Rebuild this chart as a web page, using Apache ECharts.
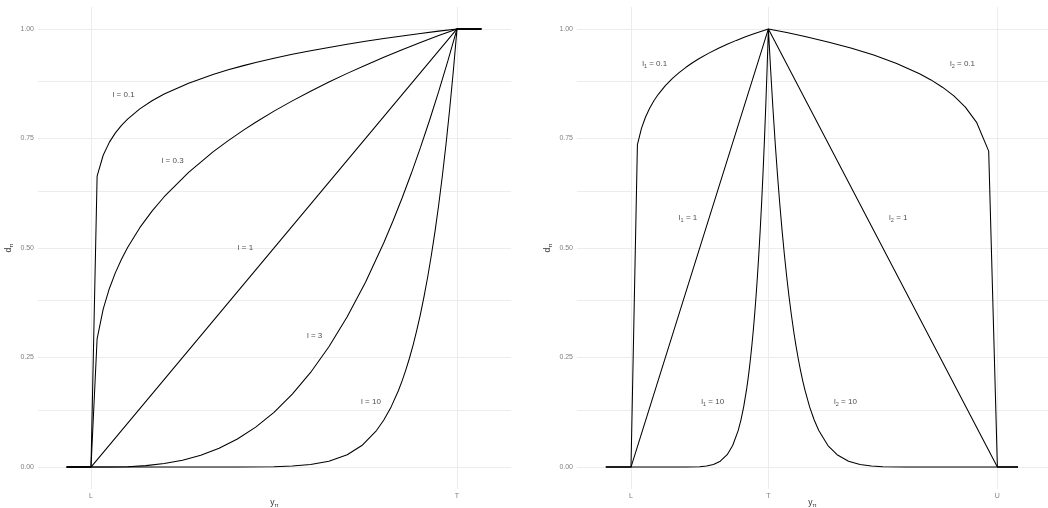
<!DOCTYPE html>
<html>
<head>
<meta charset="utf-8">
<script src="https://cdn.jsdelivr.net/npm/echarts@6/dist/echarts.min.js"></script>
<style>
  html, body { margin: 0; padding: 0; background: #ffffff; }
  #chart { width: 1048px; height: 508px; }
</style>
</head>
<body>
<div id="chart"></div>
<script>
const FONT = "'Liberation Sans', Arial, sans-serif";

// ---- axis ticks -------------------------------------------------------
// one-sided panel: L = 0, T = 1
const leftTickPos = [0, 1];
const leftTickText = ['L', 'T'];
// two-sided panel: L = 0, T = 3, U = 8
const rightTickPos = [0, 3, 8];
const rightTickText = ['L', 'T', 'U'];
const yMajor = [0, 0.25, 0.5, 0.75, 1];
const yMinor = [0.125, 0.375, 0.625, 0.875];

// ---- one-sided desirability curves (l = 0.1, 0.3, 1, 3, 10) -----------
const oneX_low = [-0.0667, 0, 0.0167, 0.0333, 0.05, 0.0667, 0.0833, 0.1, 0.1333, 0.1667, 0.2, 0.2667, 0.3333, 0.375, 0.4167, 0.45, 0.5, 0.55, 0.6, 0.65, 0.7, 0.75, 0.8, 0.85, 0.9, 0.95, 1, 1.0667];
const oneD_01 = [0, 0, 0.664, 0.7117, 0.7411, 0.7627, 0.78, 0.7943, 0.8175, 0.836, 0.8513, 0.8762, 0.896, 0.9066, 0.9162, 0.9233, 0.933, 0.942, 0.9502, 0.9578, 0.965, 0.9716, 0.9779, 0.9839, 0.9895, 0.9949, 1, 1];
const oneD_03 = [0, 0, 0.2928, 0.3605, 0.4071, 0.4438, 0.4745, 0.5012, 0.5464, 0.5842, 0.617, 0.6726, 0.7193, 0.7451, 0.769, 0.787, 0.8123, 0.8358, 0.8579, 0.8788, 0.8985, 0.9173, 0.9353, 0.9524, 0.9689, 0.9847, 1, 1];

const oneX_1 = [-0.0667, 0, 1, 1.0667];
const oneD_1 = [0, 0, 1, 1];

const oneX_3 = [-0.0667, 0, 0.05, 0.1, 0.15, 0.2, 0.25, 0.3, 0.35, 0.4, 0.45, 0.5, 0.55, 0.6, 0.65, 0.7, 0.75, 0.8, 0.825, 0.85, 0.875, 0.9, 0.925, 0.95, 0.975, 1, 1.0667];
const oneD_3 = [0, 0, 0.000125, 0.001, 0.003375, 0.008, 0.015625, 0.027, 0.042875, 0.064, 0.091125, 0.125, 0.1664, 0.216, 0.2746, 0.343, 0.4219, 0.512, 0.5615, 0.6141, 0.6699, 0.729, 0.7915, 0.8574, 0.9269, 1, 1];

const oneX_10 = [-0.0667, 0, 0.3, 0.4, 0.5, 0.55, 0.6, 0.65, 0.7, 0.74, 0.78, 0.8, 0.82, 0.84, 0.85, 0.86, 0.87, 0.88, 0.89, 0.9, 0.91, 0.92, 0.93, 0.94, 0.95, 0.96, 0.97, 0.98, 0.99, 1, 1.0667];
const oneD_10 = [0, 0, 0.0000059, 0.000105, 0.000977, 0.002533, 0.006047, 0.01346, 0.02825, 0.04924, 0.08336, 0.1074, 0.1374, 0.1749, 0.1969, 0.2213, 0.2484, 0.2785, 0.3118, 0.3487, 0.3894, 0.4344, 0.484, 0.5386, 0.5987, 0.6648, 0.7374, 0.8171, 0.9044, 1, 1];

// ---- two-sided desirability curves (l1 = l2 = 0.1, 1, 10) -------------
const twoX_01 = [-0.55, 0, 0.14, 0.23, 0.32, 0.41, 0.5, 0.6, 0.75, 0.9, 1.05, 1.2, 1.35, 1.5, 1.7, 1.9, 2.1, 2.3, 2.5, 2.7, 2.85, 3, 3.4, 3.8, 4.3, 4.8, 5.3, 5.8, 6.3, 6.55, 6.8, 7.05, 7.3, 7.55, 7.81, 8, 8.45];
const twoD_01 = [0, 0, 0.736, 0.7735, 0.7995, 0.8195, 0.836, 0.8513, 0.8706, 0.8866, 0.9003, 0.9124, 0.9233, 0.933, 0.9448, 0.9553, 0.965, 0.9738, 0.9819, 0.9895, 0.9949, 1, 0.9917, 0.9827, 0.9703, 0.9563, 0.9402, 0.9212, 0.8977, 0.8836, 0.867, 0.847, 0.8215, 0.786, 0.7211, 0, 0];

const twoX_1 = [-0.55, 0, 3, 8, 8.45];
const twoD_1 = [0, 0, 1, 0, 0];

const twoX_10 = [-0.55, 0, 0.9, 1.2, 1.5, 1.65, 1.8, 1.95, 2.1, 2.22, 2.34, 2.4, 2.46, 2.52, 2.55, 2.58, 2.61, 2.64, 2.67, 2.7, 2.73, 2.76, 2.79, 2.82, 2.85, 2.88, 2.91, 2.94, 2.97, 3, 3.05, 3.1, 3.15, 3.2, 3.25, 3.3, 3.35, 3.4, 3.45, 3.5, 3.55, 3.6, 3.65, 3.7, 3.75, 3.8, 3.9, 4, 4.1, 4.3, 4.5, 4.75, 5, 5.25, 5.5, 6, 6.5, 8, 8.45];
const twoD_10 = [0, 0, 0.0000059, 0.000105, 0.000977, 0.002533, 0.006047, 0.01346, 0.02825, 0.04924, 0.08336, 0.1074, 0.1374, 0.1749, 0.1969, 0.2213, 0.2484, 0.2785, 0.3118, 0.3487, 0.3894, 0.4344, 0.484, 0.5386, 0.5987, 0.6648, 0.7374, 0.8171, 0.9044, 1, 0.9044, 0.8171, 0.7374, 0.6648, 0.5987, 0.5386, 0.484, 0.4344, 0.3894, 0.3487, 0.3118, 0.2785, 0.2484, 0.2213, 0.1969, 0.1749, 0.1374, 0.1074, 0.08336, 0.04924, 0.02825, 0.01346, 0.006047, 0.002533, 0.000977, 0.000105, 0.0000059, 0, 0];

// ---- curve annotations ------------------------------------------------
const oneLabelX = [0.089, 0.223, 0.422, 0.611, 0.765];
const oneLabelY = [0.85, 0.70, 0.50, 0.30, 0.15];
const oneLabelSub = ['', '', '', '', ''];
const oneLabelVal = ['0.1', '0.3', '1', '3', '10'];

const twoLabelX = [0.517, 1.245, 1.784, 7.238, 5.836, 4.683];
const twoLabelY = [0.92, 0.57, 0.15, 0.92, 0.57, 0.15];
const twoLabelSub = ['1', '1', '1', '2', '2', '2'];
const twoLabelVal = ['0.1', '1', '10', '0.1', '1', '10'];

// ---- helpers ----------------------------------------------------------
const zip = (xs, ys) => xs.map((x, i) => [x, ys[i]]);

function curve(xs, ds, idx) {
  return {
    type: 'line',
    xAxisIndex: idx,
    yAxisIndex: idx,
    data: zip(xs, ds),
    symbol: 'none',
    showSymbol: false,
    silent: true,
    z: 4,
    lineStyle: { color: '#000000', width: 1.05 }
  };
}

function gridLines(idx, xTicks) {
  const lines = [];
  yMajor.concat(yMinor).forEach(v => lines.push({ yAxis: v }));
  xTicks.forEach(v => lines.push({ xAxis: v }));
  return {
    type: 'line',
    xAxisIndex: idx,
    yAxisIndex: idx,
    data: [],
    silent: true,
    z: 1,
    markLine: {
      silent: true,
      z: 1,
      symbol: 'none',
      animation: false,
      label: { show: false },
      lineStyle: { color: '#ececec', width: 1, type: 'solid' },
      emphasis: { disabled: true },
      data: lines
    }
  };
}

const labelRich = {
  t: { fontFamily: FONT, fontSize: 8, color: '#222222', lineHeight: 12 },
  s: { fontFamily: FONT, fontSize: 5.5, color: '#222222', lineHeight: 6, verticalAlign: 'bottom' }
};

function labels(idx, xs, ys, subs, vals) {
  return {
    type: 'scatter',
    xAxisIndex: idx,
    yAxisIndex: idx,
    silent: true,
    z: 5,
    symbolSize: 1,
    itemStyle: { color: 'rgba(0,0,0,0)' },
    data: xs.map((x, i) => ({ value: [x, ys[i]], sub: subs[i], val: vals[i] })),
    label: {
      show: true,
      position: 'inside',
      formatter: p => '{t|l}' + (p.data.sub ? '{s|' + p.data.sub + '}' : '') + '{t| = ' + p.data.val + '}',
      rich: labelRich
    }
  };
}

const nameRich = {
  a: { fontFamily: FONT, fontSize: 8.5, color: '#333333', lineHeight: 11 },
  b: { fontFamily: FONT, fontSize: 6, color: '#333333', lineHeight: 6, verticalAlign: 'bottom' }
};

function xAxis(idx, min, max, pos, text) {
  return {
    type: 'value',
    gridIndex: idx,
    min: min,
    max: max,
    axisLine: { show: false },
    axisTick: { show: false },
    splitLine: { show: false },
    axisLabel: {
      customValues: pos,
      formatter: v => {
        const k = pos.findIndex(p => Math.abs(p - v) < 1e-9);
        return k >= 0 ? text[k] : '';
      },
      fontFamily: FONT,
      fontSize: 7,
      color: '#808080',
      margin: 4
    },
    name: '{a|y}{b|π}',
    nameLocation: 'middle',
    nameGap: 8,
    nameMoveOverlap: false,
    nameTextStyle: { rich: nameRich }
  };
}

function yAxis(idx) {
  return {
    type: 'value',
    gridIndex: idx,
    min: -0.05,
    max: 1.05,
    axisLine: { show: false },
    axisTick: { show: false },
    splitLine: { show: false },
    axisLabel: {
      customValues: yMajor,
      formatter: v => v.toFixed(2),
      fontFamily: FONT,
      fontSize: 7,
      color: '#808080',
      margin: 4
    },
    name: '{a|d}{b|π}',
    nameLocation: 'middle',
    nameRotate: 90,
    nameGap: 24,
    nameMoveOverlap: false,
    nameTextStyle: { rich: nameRich }
  };
}

const chart = echarts.init(document.getElementById('chart'), null, { renderer: 'canvas' });
chart.setOption({
  animation: false,
  backgroundColor: '#ffffff',
  grid: [
    { left: 38, top: 7, width: 473, height: 482, containLabel: false, outerBoundsMode: 'none' },
    { left: 577, top: 7, width: 471, height: 482, containLabel: false, outerBoundsMode: 'none' }
  ],
  xAxis: [
    xAxis(0, -0.1448, 1.1475, leftTickPos, leftTickText),
    xAxis(1, -1.179, 9.105, rightTickPos, rightTickText)
  ],
  yAxis: [yAxis(0), yAxis(1)],
  series: [
    gridLines(0, leftTickPos),
    gridLines(1, rightTickPos),
    curve(oneX_low, oneD_01, 0),
    curve(oneX_low, oneD_03, 0),
    curve(oneX_1, oneD_1, 0),
    curve(oneX_3, oneD_3, 0),
    curve(oneX_10, oneD_10, 0),
    curve(twoX_01, twoD_01, 1),
    curve(twoX_1, twoD_1, 1),
    curve(twoX_10, twoD_10, 1),
    labels(0, oneLabelX, oneLabelY, oneLabelSub, oneLabelVal),
    labels(1, twoLabelX, twoLabelY, twoLabelSub, twoLabelVal)
  ]
});
</script>
</body>
</html>
